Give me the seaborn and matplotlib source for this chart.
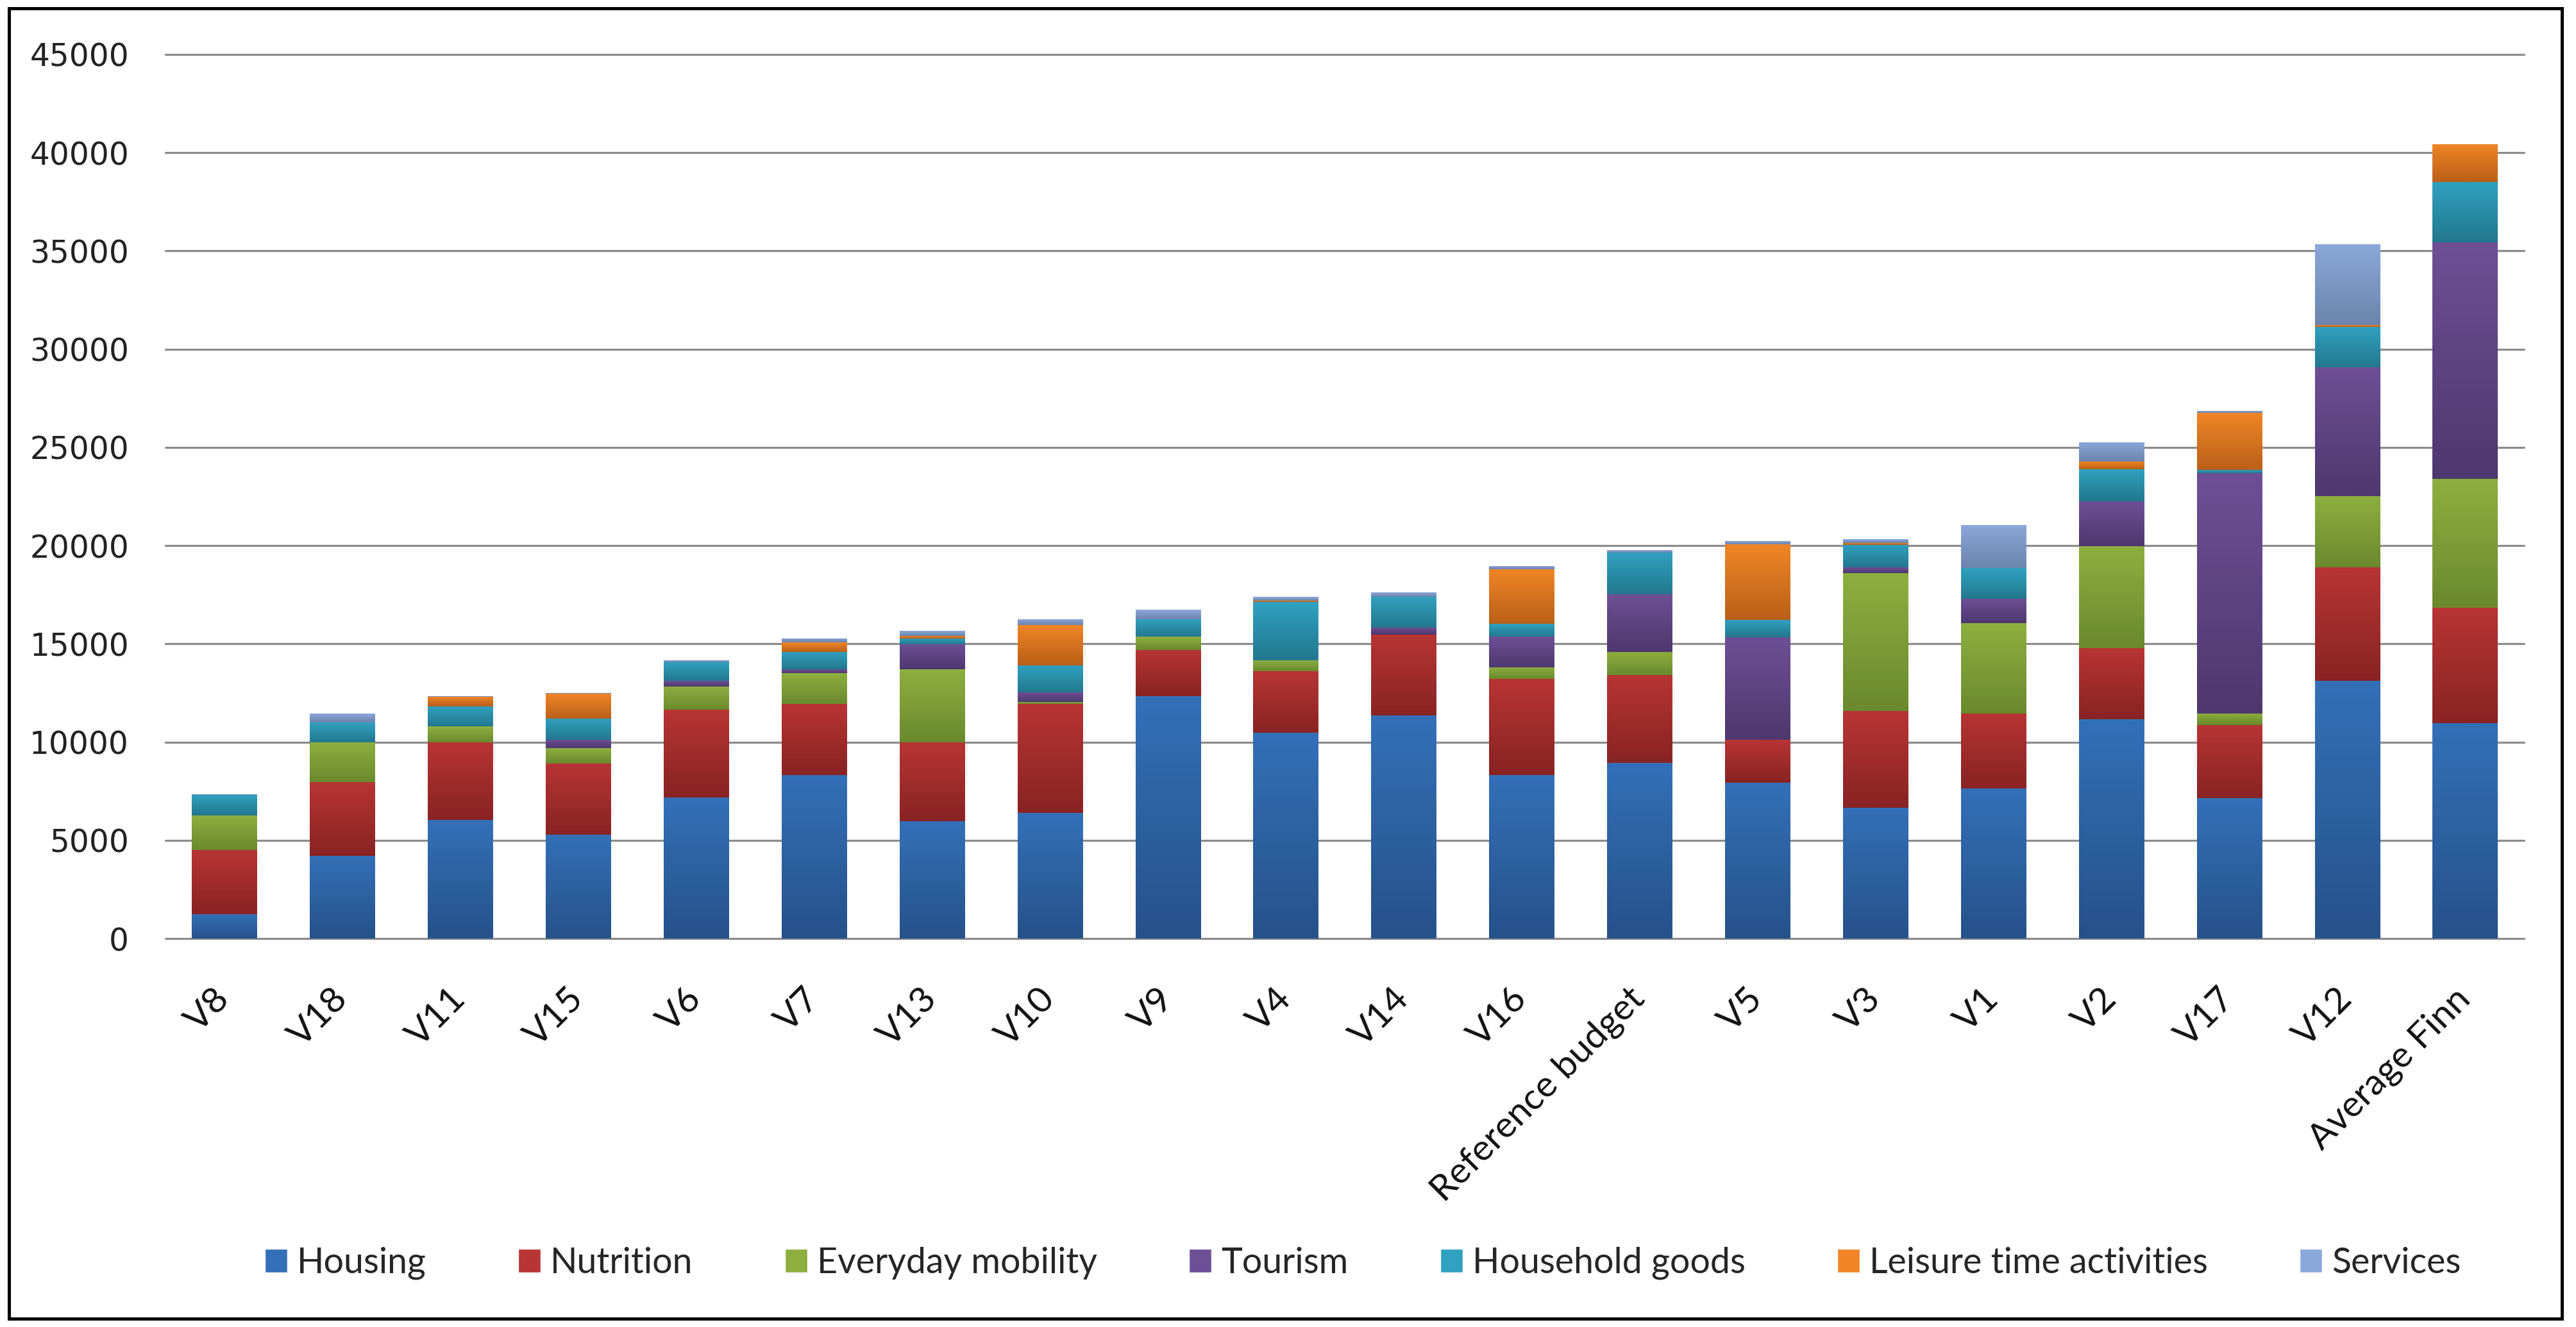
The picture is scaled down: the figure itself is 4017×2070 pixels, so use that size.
import numpy as np
import pandas as pd
import seaborn as sns
import matplotlib.pyplot as plt
from matplotlib.patches import Patch, Rectangle
from matplotlib.colors import to_rgb

labels = ['V8', 'V18', 'V11', 'V15', 'V6', 'V7', 'V13', 'V10', 'V9', 'V4', 'V14', 'V16',
          'Reference budget', 'V5', 'V3', 'V1', 'V2', 'V17', 'V12', 'Average Finn']

housing = [1250, 4200, 6050, 5300, 7170, 8330, 5980, 6390, 12330, 10490, 11370, 8330,
           8930, 7940, 6670, 7620, 11150, 7150, 13120, 10960]
nutrition = [3250, 3750, 3950, 3600, 4480, 3620, 4010, 5560, 2360, 3120, 4100, 4880,
             4470, 2160, 4900, 3840, 3620, 3720, 5770, 5870]
mobility = [1750, 2050, 800, 800, 1180, 1560, 3700, 100, 680, 560, 0, 600,
            1190, 0, 7030, 4590, 5190, 590, 3630, 6560]
tourism = [0, 0, 0, 400, 280, 180, 1280, 480, 0, 0, 360, 1560,
           2930, 5250, 290, 1250, 2280, 12240, 6560, 12060]
household = [1050, 1000, 1000, 1100, 960, 900, 300, 1380, 880, 2960, 1560, 660,
             2110, 880, 1160, 1560, 1650, 160, 2060, 3060]
leisure = [0, 0, 500, 1250, 0, 480, 120, 2040, 0, 80, 0, 2760,
           0, 3840, 100, 0, 380, 2900, 90, 1930]
services = [50, 450, 50, 50, 100, 200, 260, 300, 480, 180, 220, 180,
            130, 170, 190, 2190, 1000, 100, 4120, 0]

series_names = ['Housing', 'Nutrition', 'Everyday mobility', 'Tourism',
                'Household goods', 'Leisure time activities', 'Services']
series = [housing, nutrition, mobility, tourism, household, leisure, services]

# (top, bottom) gradient colours, excel 2007 look
tops = ['#3470B8', '#B73534', '#8DAF40', '#6E4F96', '#30A1C0', '#EF8526', '#8BA8DA']
bottoms = ['#26528A', '#892323', '#6A8A2D', '#4E386F', '#23788F', '#BA6018', '#6C84AD']

sns.set_style('white')
plt.rcParams['font.family'] = ['DejaVu Sans']

W, H = 4017, 2070
fig = plt.figure(figsize=(W / 100, H / 100), dpi=100)
ax = fig.add_axes([258 / W, 1 - 1464 / H, (3936 - 258) / W, (1464 - 85) / H])

df = pd.DataFrame(dict(zip(series_names, series)), index=labels)
bottom = np.zeros(len(labels))
groups = []
for name, top in zip(series_names, tops):
    n0 = len(ax.patches)
    sns.barplot(x=labels, y=df[name].values, bottom=bottom, color=top, width=0.55,
                saturation=1, errorbar=None, ax=ax, zorder=2)
    groups.append(ax.patches[n0:])
    bottom = bottom + df[name].values

# vertical gradient inside every segment
for grp, c1, c2 in zip(groups, tops, bottoms):
    grad = np.linspace(to_rgb(c1), to_rgb(c2), 64).reshape(64, 1, 3)
    for p in grp:
        if p.get_height() <= 0:
            continue
        x0, y0 = p.get_x(), p.get_y()
        img = ax.imshow(grad, extent=[x0, x0 + p.get_width(), y0, y0 + p.get_height()],
                        aspect='auto', zorder=2.1, interpolation='bilinear')
        img.set_clip_path(p)
        p.set_alpha(0.0)
ax.set_xlim(-0.5, len(labels) - 0.5)
ax.set_ylim(0, 45000)

ax.set_yticks(range(0, 45001, 5000))
ax.set_yticklabels([str(v) for v in range(0, 45001, 5000)])
ax.yaxis.grid(True, color='#8C8C8C', linewidth=2.3)
for gl in ax.get_ygridlines():
    gl.set_clip_on(False)
ax.set_axisbelow(True)
for s in ax.spines.values():
    s.set_visible(False)

ax.tick_params(axis='y', length=0, pad=41, labelsize=35, labelcolor='#222222')
ax.tick_params(axis='x', length=0, pad=62)
for t in ax.get_xticklabels():
    t.set_rotation(45)
    t.set_ha('right')
    t.set_va('center')
    t.set_rotation_mode('anchor')
    t.set_fontfamily('Lato')
    t.set_fontsize(41)
    t.set_color('#111111')
ax.set_xlabel('')
ax.set_ylabel('')

handles = [Patch(facecolor=c) for c in tops]
fig.legend(handles, series_names, loc='center', bbox_to_anchor=(0.529, 0.048), ncol=7,
           frameon=False, prop={'family': 'Lato', 'size': 40}, handlelength=0.63,
           handleheight=0.63, handletextpad=0.27, columnspacing=2.58)

fig.patches.append(Rectangle((14 / W, 13 / H), (3995 - 14) / W, (2057 - 13) / H,
                             transform=fig.transFigure, fill=False, lw=3.6, ec='black'))

fig.savefig('out.png', dpi=100)
